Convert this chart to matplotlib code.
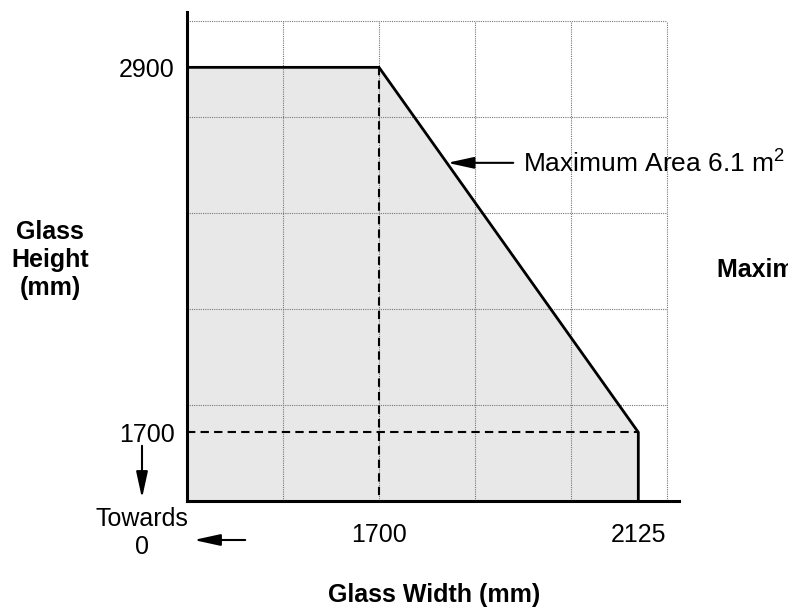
import matplotlib
matplotlib.use("Agg")
import matplotlib.pyplot as plt

plt.rcParams['font.family'] = ['Liberation Sans', 'DejaVu Sans']
plt.rcParams['mathtext.fontset'] = 'custom'
plt.rcParams['mathtext.rm'] = 'Liberation Sans'

# envelope of allowed glass sizes (mm)
width_pts = [1700, 2125]
height_pts = [2900, 1700]
max_area_label = 'Maximum Area 6.1 m$^{2}$'

# axis window (the axes are truncated, not starting at 0)
x_lim = (1385.3, 2191.7)
y_lim = (1474, 3082)

# decorative dotted grid
grid_x = [1542.7, 1700, 1857.4, 2014.7, 2172]
grid_y = [1789.6, 2105, 2420.8, 2736.4, 3052]

fig = plt.figure(figsize=(7.88, 6.08), dpi=100)
ax = fig.add_axes([187 / 788, 1 - 501 / 608, 492 / 788, 489 / 608])
ax.set_xlim(*x_lim)
ax.set_ylim(*y_lim)

# grid
ax.vlines(grid_x, y_lim[0], grid_y[-1], colors='#777777', linestyles=(0, (1, 1)), linewidth=0.8, zorder=1)
ax.hlines(grid_y, x_lim[0], grid_x[-1], colors='#777777', linestyles=(0, (1, 1)), linewidth=0.8, zorder=1)

# shaded area
xs = [x_lim[0], x_lim[0], width_pts[0], width_pts[1], width_pts[1]]
ys = [y_lim[0], height_pts[0], height_pts[0], height_pts[1], y_lim[0]]
ax.fill(xs, ys, color='#e8e8e8', zorder=0, linewidth=0)
ax.plot(xs[1:], ys[1:], color='black', linewidth=2.0, zorder=3, solid_joinstyle='miter')

# dashed guides
ax.plot([x_lim[0], width_pts[1]], [height_pts[1], height_pts[1]], color='black',
        linewidth=1.5, dashes=(4, 2.5), zorder=2)
ax.plot([width_pts[0], width_pts[0]], [height_pts[0], y_lim[0]], color='black',
        linewidth=1.5, dashes=(4, 2.5), zorder=2)

# annotation of the sloped edge
arrow = '-|>,head_length=1.6,head_width=0.35'
ax.annotate('', xy=(1812, 2586), xytext=(1920, 2586),
            arrowprops=dict(arrowstyle=arrow, color='black', lw=1.5, shrinkA=0, shrinkB=0))
ax.text(1936, 2586, max_area_label, fontsize=19, ha='left', va='center')

# spines and ticks
for s in ['top', 'right']:
    ax.spines[s].set_visible(False)
for s in ['left', 'bottom']:
    ax.spines[s].set_linewidth(2.2)
ax.set_xticks(width_pts)
ax.set_yticks(height_pts)
ax.tick_params(axis='both', length=0, labelsize=18)
ax.tick_params(axis='x', pad=16)
ax.tick_params(axis='y', pad=9)

# labels
fig.text(50 / 788, 1 - 260 / 608, 'Glass\nHeight\n(mm)', fontsize=18, fontweight='bold',
         ha='center', va='center', linespacing=1.2)
fig.text(434 / 788, 1 - 595 / 608, 'Glass Width (mm)', fontsize=18, fontweight='bold',
         ha='center', va='center')
# partly outside the picture, as in the original
fig.text(717 / 788, 1 - 270 / 608, 'Maximum Area', fontsize=18, fontweight='bold',
         ha='left', va='center')

# "Towards 0" hint
fig.text(142 / 788, 1 - 533 / 608, 'Towards\n0', fontsize=18, ha='center', va='center', linespacing=1.2)
fig.patches.append(matplotlib.patches.FancyArrowPatch(
    (142 / 788, 1 - 443 / 608), (142 / 788, 1 - 501 / 608), transform=fig.transFigure,
    arrowstyle=arrow, color='black', lw=1.5, mutation_scale=10))
fig.patches.append(matplotlib.patches.FancyArrowPatch(
    (248 / 788, 1 - 540 / 608), (191 / 788, 1 - 540 / 608), transform=fig.transFigure,
    arrowstyle=arrow, color='black', lw=1.5, mutation_scale=10))

fig.savefig('out.png', dpi=100)
